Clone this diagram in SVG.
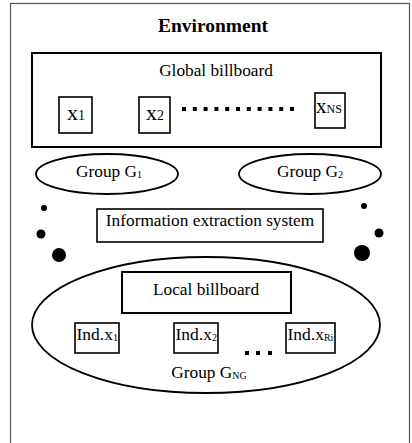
<svg xmlns="http://www.w3.org/2000/svg" width="412" height="443" viewBox="0 0 412 443">
  <style>
    text { font-family: "Liberation Serif", "Times New Roman", serif; fill: #000; }
    .box { fill: #fff; stroke: #000; stroke-width: 1.6; }
    .thick { fill: #fff; stroke: #000; stroke-width: 2; }
    .ell { fill: #fff; stroke: #000; stroke-width: 1.8; }
    .lbl { font-size: 17.3px; text-anchor: middle; }
    .var { font-size: 22px; }
    .ind { font-size: 17.5px; }
    .dot { fill: #000; }
  </style>

  <!-- environment frame -->
  <g id="environment">
    <rect x="10.5" y="3.5" width="399" height="441" fill="#fff" stroke="#555" stroke-width="1.2"/>
    <text x="213" y="32" font-size="19.5" font-weight="bold" text-anchor="middle">Environment</text>
  </g>

  <!-- global billboard with its variables -->
  <g id="global-billboard">
    <rect class="thick" x="32" y="53" width="349" height="94"/>
    <text class="lbl" x="216" y="76">Global billboard</text>
  </g>
  <g id="x1">
    <rect class="box" x="59" y="97" width="33" height="36"/>
    <text class="var" x="67" y="120">x<tspan font-size="14">1</tspan></text>
  </g>
  <g id="x2">
    <rect class="box" x="139" y="97" width="31" height="36"/>
    <text class="var" x="146" y="120">x<tspan font-size="14">2</tspan></text>
  </g>
  <g id="x-dots">
    <rect class="dot" x="182" y="107" width="4" height="4"/>
    <rect class="dot" x="192.8" y="107" width="4" height="4"/>
    <rect class="dot" x="203.6" y="107" width="4" height="4"/>
    <rect class="dot" x="214.4" y="107" width="4" height="4"/>
    <rect class="dot" x="225.2" y="107" width="4" height="4"/>
    <rect class="dot" x="236" y="107" width="4" height="4"/>
    <rect class="dot" x="246.8" y="107" width="4" height="4"/>
    <rect class="dot" x="257.6" y="107" width="4" height="4"/>
    <rect class="dot" x="268.4" y="107" width="4" height="4"/>
    <rect class="dot" x="279.2" y="107" width="4" height="4"/>
    <rect class="dot" x="290" y="107" width="4" height="4"/>
  </g>
  <g id="xNS">
    <rect class="box" x="315" y="93" width="30" height="35"/>
    <text x="316" y="113" font-size="21">x<tspan font-size="12">NS</tspan></text>
  </g>

  <!-- groups -->
  <g id="group-g1">
    <ellipse class="ell" cx="107" cy="174" rx="71" ry="20"/>
    <text class="lbl" x="109" y="177">Group G<tspan font-size="10" dy="1">1</tspan></text>
  </g>
  <g id="group-g2">
    <ellipse class="ell" cx="310" cy="174" rx="71" ry="20"/>
    <text class="lbl" x="310" y="177">Group G<tspan font-size="10" dy="1">2</tspan></text>
  </g>

  <!-- ellipsis dots between groups -->
  <g id="group-dots">
    <circle class="dot" cx="44" cy="208" r="3"/>
    <circle class="dot" cx="41" cy="234" r="4.5"/>
    <circle class="dot" cx="59" cy="255" r="7"/>
    <circle class="dot" cx="364" cy="206" r="3"/>
    <circle class="dot" cx="379" cy="233" r="4.5"/>
    <circle class="dot" cx="362" cy="253" r="8"/>
  </g>

  <g id="information-extraction">
    <rect class="box" x="97" y="209" width="226" height="33"/>
    <text class="lbl" x="210" y="226">Information extraction system</text>
  </g>

  <!-- group NG with local billboard -->
  <g id="group-gng">
    <ellipse class="ell" cx="206" cy="325" rx="174" ry="68"/>
    <text class="lbl" x="209" y="378">Group G<tspan font-size="10" dy="1">NG</tspan></text>
  </g>
  <g id="local-billboard">
    <rect class="thick" x="122" y="272" width="169" height="41"/>
    <text class="lbl" x="206" y="295">Local billboard</text>
  </g>
  <g id="ind-x1">
    <rect class="box" x="75" y="323" width="44" height="30"/>
    <text class="ind" x="76.5" y="340">Ind.x<tspan font-size="10" dy="1">1</tspan></text>
  </g>
  <g id="ind-x2">
    <rect class="box" x="174" y="323" width="44" height="30"/>
    <text class="ind" x="175.5" y="340">Ind.x<tspan font-size="10" dy="1">2</tspan></text>
  </g>
  <g id="ind-dots">
    <rect class="dot" x="245" y="351" width="4" height="4"/>
    <rect class="dot" x="256" y="351" width="4" height="4"/>
    <rect class="dot" x="268" y="351" width="4" height="4"/>
  </g>
  <g id="ind-xRi">
    <rect class="box" x="286" y="323" width="49" height="30"/>
    <text class="ind" x="287.5" y="340">Ind.x<tspan font-size="10" dy="1">Ri</tspan></text>
  </g>
</svg>
